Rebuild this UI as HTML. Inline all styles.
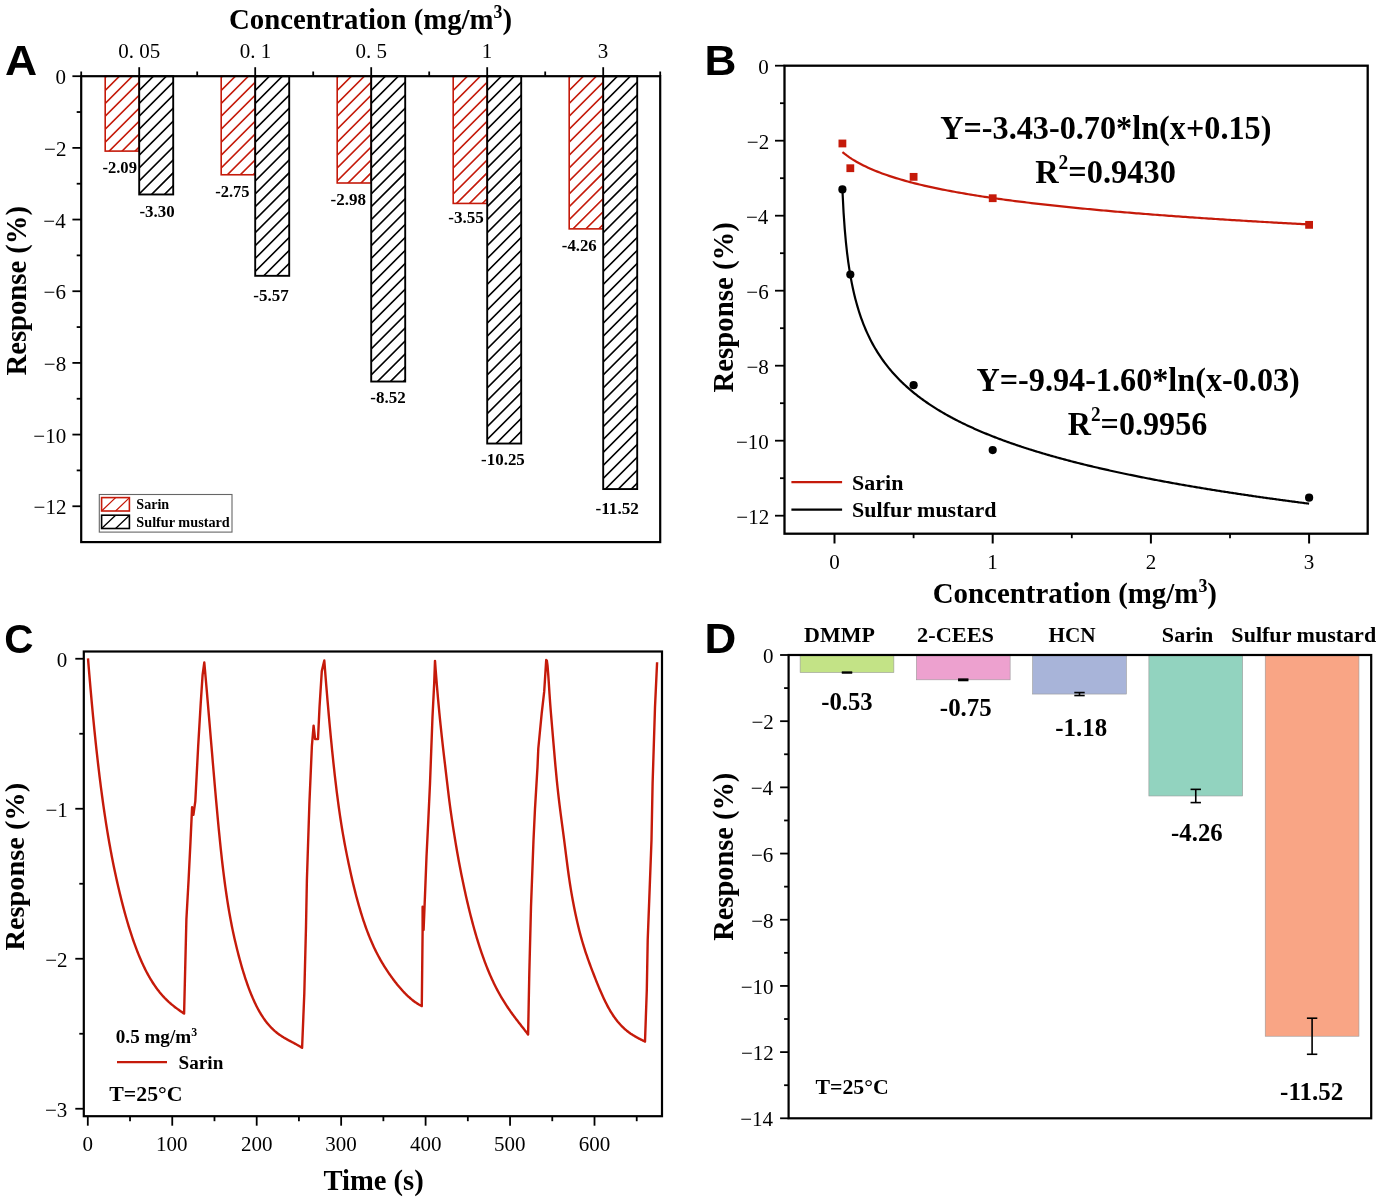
<!DOCTYPE html>
<html><head><meta charset="utf-8"><style>
html,body{margin:0;padding:0;background:#fff;width:1380px;height:1199px;overflow:hidden}
svg{display:block;will-change:transform}
</style></head><body>
<svg width="1380" height="1199" viewBox="0 0 1380 1199">
<rect width="1380" height="1199" fill="#fff"/>
<text transform="translate(4.91,74.80) scale(1.0401,1)" font-family='"Liberation Sans", sans-serif' font-size="42.79" font-weight="bold" fill="#000"><tspan>A</tspan></text>
<text transform="translate(229.00,29.30) scale(1.0000,1)" font-family='"Liberation Serif", serif' font-size="28.79" font-weight="bold" fill="#000"><tspan>Concentration (mg/m</tspan><tspan dy="-10.92" font-size="17.85">3</tspan><tspan dy="10.92">)</tspan></text>
<text transform="translate(26.10,375.50) rotate(-90) scale(0.9994,1)" font-family='"Liberation Serif", serif' font-size="28.68" font-weight="bold" fill="#000"><tspan>Response (%)</tspan></text>
<clipPath id="hc1"><rect x="105.20" y="76.20" width="34.00" height="74.90"/></clipPath>
<path d="M105.20,77.50L106.50,76.20M105.20,90.43L119.43,76.20M105.20,103.36L132.36,76.20M105.20,116.29L145.29,76.20M105.20,129.22L158.22,76.20M105.20,142.15L171.15,76.20M105.20,155.08L184.08,76.20M105.20,168.01L197.01,76.20M105.20,180.94L209.94,76.20M105.20,193.87L222.87,76.20" stroke="#c51a0a" stroke-width="1.6" fill="none" clip-path="url(#hc1)"/>
<rect x="105.20" y="76.20" width="34.00" height="74.90" fill="none" stroke="#c51a0a" stroke-width="1.6"/>
<clipPath id="hc2"><rect x="139.20" y="76.20" width="34.00" height="118.27"/></clipPath>
<path d="M139.20,77.50L140.50,76.20M139.20,90.43L153.43,76.20M139.20,103.36L166.36,76.20M139.20,116.29L179.29,76.20M139.20,129.22L192.22,76.20M139.20,142.15L205.15,76.20M139.20,155.08L218.08,76.20M139.20,168.01L231.01,76.20M139.20,180.94L243.94,76.20M139.20,193.87L256.87,76.20M139.20,206.80L269.80,76.20M139.20,219.73L282.73,76.20M139.20,232.66L295.66,76.20" stroke="#000" stroke-width="1.6" fill="none" clip-path="url(#hc2)"/>
<rect x="139.20" y="76.20" width="34.00" height="118.27" fill="none" stroke="#000" stroke-width="1.9"/>
<clipPath id="hc3"><rect x="221.20" y="76.20" width="34.00" height="98.56"/></clipPath>
<path d="M221.20,77.50L222.50,76.20M221.20,90.43L235.43,76.20M221.20,103.36L248.36,76.20M221.20,116.29L261.29,76.20M221.20,129.22L274.22,76.20M221.20,142.15L287.15,76.20M221.20,155.08L300.08,76.20M221.20,168.01L313.01,76.20M221.20,180.94L325.94,76.20M221.20,193.87L338.87,76.20M221.20,206.80L351.80,76.20M221.20,219.73L364.73,76.20" stroke="#c51a0a" stroke-width="1.6" fill="none" clip-path="url(#hc3)"/>
<rect x="221.20" y="76.20" width="34.00" height="98.56" fill="none" stroke="#c51a0a" stroke-width="1.6"/>
<clipPath id="hc4"><rect x="255.20" y="76.20" width="34.00" height="199.62"/></clipPath>
<path d="M255.20,77.50L256.50,76.20M255.20,90.43L269.43,76.20M255.20,103.36L282.36,76.20M255.20,116.29L295.29,76.20M255.20,129.22L308.22,76.20M255.20,142.15L321.15,76.20M255.20,155.08L334.08,76.20M255.20,168.01L347.01,76.20M255.20,180.94L359.94,76.20M255.20,193.87L372.87,76.20M255.20,206.80L385.80,76.20M255.20,219.73L398.73,76.20M255.20,232.66L411.66,76.20M255.20,245.59L424.59,76.20M255.20,258.52L437.52,76.20M255.20,271.45L450.45,76.20M255.20,284.38L463.38,76.20M255.20,297.31L476.31,76.20M255.20,310.24L489.24,76.20M255.20,323.17L502.17,76.20" stroke="#000" stroke-width="1.6" fill="none" clip-path="url(#hc4)"/>
<rect x="255.20" y="76.20" width="34.00" height="199.62" fill="none" stroke="#000" stroke-width="1.9"/>
<clipPath id="hc5"><rect x="337.20" y="76.20" width="34.00" height="106.80"/></clipPath>
<path d="M337.20,77.50L338.50,76.20M337.20,90.43L351.43,76.20M337.20,103.36L364.36,76.20M337.20,116.29L377.29,76.20M337.20,129.22L390.22,76.20M337.20,142.15L403.15,76.20M337.20,155.08L416.08,76.20M337.20,168.01L429.01,76.20M337.20,180.94L441.94,76.20M337.20,193.87L454.87,76.20M337.20,206.80L467.80,76.20M337.20,219.73L480.73,76.20" stroke="#c51a0a" stroke-width="1.6" fill="none" clip-path="url(#hc5)"/>
<rect x="337.20" y="76.20" width="34.00" height="106.80" fill="none" stroke="#c51a0a" stroke-width="1.6"/>
<clipPath id="hc6"><rect x="371.20" y="76.20" width="34.00" height="305.34"/></clipPath>
<path d="M371.20,77.50L372.50,76.20M371.20,90.43L385.43,76.20M371.20,103.36L398.36,76.20M371.20,116.29L411.29,76.20M371.20,129.22L424.22,76.20M371.20,142.15L437.15,76.20M371.20,155.08L450.08,76.20M371.20,168.01L463.01,76.20M371.20,180.94L475.94,76.20M371.20,193.87L488.87,76.20M371.20,206.80L501.80,76.20M371.20,219.73L514.73,76.20M371.20,232.66L527.66,76.20M371.20,245.59L540.59,76.20M371.20,258.52L553.52,76.20M371.20,271.45L566.45,76.20M371.20,284.38L579.38,76.20M371.20,297.31L592.31,76.20M371.20,310.24L605.24,76.20M371.20,323.17L618.17,76.20M371.20,336.10L631.10,76.20M371.20,349.03L644.03,76.20M371.20,361.96L656.96,76.20M371.20,374.89L669.89,76.20M371.20,387.82L682.82,76.20M371.20,400.75L695.75,76.20M371.20,413.68L708.68,76.20M371.20,426.61L721.61,76.20" stroke="#000" stroke-width="1.6" fill="none" clip-path="url(#hc6)"/>
<rect x="371.20" y="76.20" width="34.00" height="305.34" fill="none" stroke="#000" stroke-width="1.9"/>
<clipPath id="hc7"><rect x="453.20" y="76.20" width="34.00" height="127.23"/></clipPath>
<path d="M453.20,77.50L454.50,76.20M453.20,90.43L467.43,76.20M453.20,103.36L480.36,76.20M453.20,116.29L493.29,76.20M453.20,129.22L506.22,76.20M453.20,142.15L519.15,76.20M453.20,155.08L532.08,76.20M453.20,168.01L545.01,76.20M453.20,180.94L557.94,76.20M453.20,193.87L570.87,76.20M453.20,206.80L583.80,76.20M453.20,219.73L596.73,76.20M453.20,232.66L609.66,76.20M453.20,245.59L622.59,76.20" stroke="#c51a0a" stroke-width="1.6" fill="none" clip-path="url(#hc7)"/>
<rect x="453.20" y="76.20" width="34.00" height="127.23" fill="none" stroke="#c51a0a" stroke-width="1.6"/>
<clipPath id="hc8"><rect x="487.20" y="76.20" width="34.00" height="367.34"/></clipPath>
<path d="M487.20,77.50L488.50,76.20M487.20,90.43L501.43,76.20M487.20,103.36L514.36,76.20M487.20,116.29L527.29,76.20M487.20,129.22L540.22,76.20M487.20,142.15L553.15,76.20M487.20,155.08L566.08,76.20M487.20,168.01L579.01,76.20M487.20,180.94L591.94,76.20M487.20,193.87L604.87,76.20M487.20,206.80L617.80,76.20M487.20,219.73L630.73,76.20M487.20,232.66L643.66,76.20M487.20,245.59L656.59,76.20M487.20,258.52L669.52,76.20M487.20,271.45L682.45,76.20M487.20,284.38L695.38,76.20M487.20,297.31L708.31,76.20M487.20,310.24L721.24,76.20M487.20,323.17L734.17,76.20M487.20,336.10L747.10,76.20M487.20,349.03L760.03,76.20M487.20,361.96L772.96,76.20M487.20,374.89L785.89,76.20M487.20,387.82L798.82,76.20M487.20,400.75L811.75,76.20M487.20,413.68L824.68,76.20M487.20,426.61L837.61,76.20M487.20,439.54L850.54,76.20M487.20,452.47L863.47,76.20M487.20,465.40L876.40,76.20M487.20,478.33L889.33,76.20M487.20,491.26L902.26,76.20" stroke="#000" stroke-width="1.6" fill="none" clip-path="url(#hc8)"/>
<rect x="487.20" y="76.20" width="34.00" height="367.34" fill="none" stroke="#000" stroke-width="1.9"/>
<clipPath id="hc9"><rect x="569.20" y="76.20" width="34.00" height="152.67"/></clipPath>
<path d="M569.20,77.50L570.50,76.20M569.20,90.43L583.43,76.20M569.20,103.36L596.36,76.20M569.20,116.29L609.29,76.20M569.20,129.22L622.22,76.20M569.20,142.15L635.15,76.20M569.20,155.08L648.08,76.20M569.20,168.01L661.01,76.20M569.20,180.94L673.94,76.20M569.20,193.87L686.87,76.20M569.20,206.80L699.80,76.20M569.20,219.73L712.73,76.20M569.20,232.66L725.66,76.20M569.20,245.59L738.59,76.20M569.20,258.52L751.52,76.20M569.20,271.45L764.45,76.20" stroke="#c51a0a" stroke-width="1.6" fill="none" clip-path="url(#hc9)"/>
<rect x="569.20" y="76.20" width="34.00" height="152.67" fill="none" stroke="#c51a0a" stroke-width="1.6"/>
<clipPath id="hc10"><rect x="603.20" y="76.20" width="34.00" height="412.86"/></clipPath>
<path d="M603.20,77.50L604.50,76.20M603.20,90.43L617.43,76.20M603.20,103.36L630.36,76.20M603.20,116.29L643.29,76.20M603.20,129.22L656.22,76.20M603.20,142.15L669.15,76.20M603.20,155.08L682.08,76.20M603.20,168.01L695.01,76.20M603.20,180.94L707.94,76.20M603.20,193.87L720.87,76.20M603.20,206.80L733.80,76.20M603.20,219.73L746.73,76.20M603.20,232.66L759.66,76.20M603.20,245.59L772.59,76.20M603.20,258.52L785.52,76.20M603.20,271.45L798.45,76.20M603.20,284.38L811.38,76.20M603.20,297.31L824.31,76.20M603.20,310.24L837.24,76.20M603.20,323.17L850.17,76.20M603.20,336.10L863.10,76.20M603.20,349.03L876.03,76.20M603.20,361.96L888.96,76.20M603.20,374.89L901.89,76.20M603.20,387.82L914.82,76.20M603.20,400.75L927.75,76.20M603.20,413.68L940.68,76.20M603.20,426.61L953.61,76.20M603.20,439.54L966.54,76.20M603.20,452.47L979.47,76.20M603.20,465.40L992.40,76.20M603.20,478.33L1005.33,76.20M603.20,491.26L1018.26,76.20M603.20,504.19L1031.19,76.20M603.20,517.12L1044.12,76.20M603.20,530.05L1057.05,76.20" stroke="#000" stroke-width="1.6" fill="none" clip-path="url(#hc10)"/>
<rect x="603.20" y="76.20" width="34.00" height="412.86" fill="none" stroke="#000" stroke-width="1.9"/>
<text transform="translate(102.40,173.30) scale(1.0000,1)" font-family='"Liberation Serif", serif' font-size="16.6" font-weight="bold" fill="#000"><tspan>-2.09</tspan></text>
<text transform="translate(139.40,217.20) scale(1.0000,1)" font-family='"Liberation Serif", serif' font-size="16.9" font-weight="bold" fill="#000"><tspan>-3.30</tspan></text>
<text transform="translate(215.20,196.80) scale(0.9970,1)" font-family='"Liberation Serif", serif' font-size="16.55" font-weight="bold" fill="#000"><tspan>-2.75</tspan></text>
<text transform="translate(253.30,301.20) scale(1.0000,1)" font-family='"Liberation Serif", serif' font-size="17.0" font-weight="bold" fill="#000"><tspan>-5.57</tspan></text>
<text transform="translate(330.50,204.70) scale(1.0029,1)" font-family='"Liberation Serif", serif' font-size="17.0" font-weight="bold" fill="#000"><tspan>-2.98</tspan></text>
<text transform="translate(370.30,402.70) scale(1.0000,1)" font-family='"Liberation Serif", serif' font-size="17.0" font-weight="bold" fill="#000"><tspan>-8.52</tspan></text>
<text transform="translate(448.30,223.00) scale(1.0000,1)" font-family='"Liberation Serif", serif' font-size="17.1" font-weight="bold" fill="#000"><tspan>-3.55</tspan></text>
<text transform="translate(481.10,464.50) scale(0.9977,1)" font-family='"Liberation Serif", serif' font-size="16.96" font-weight="bold" fill="#000"><tspan>-10.25</tspan></text>
<text transform="translate(561.80,251.00) scale(1.0000,1)" font-family='"Liberation Serif", serif' font-size="16.8" font-weight="bold" fill="#000"><tspan>-4.26</tspan></text>
<text transform="translate(595.50,514.30) scale(1.0000,1)" font-family='"Liberation Serif", serif' font-size="17.21" font-weight="bold" fill="#000"><tspan>-11.52</tspan></text>
<rect x="81.20" y="76.20" width="579.00" height="465.90" fill="none" stroke="#000" stroke-width="2.2"/>
<line x1="72.40" y1="76.20" x2="81.20" y2="76.20" stroke="#000" stroke-width="1.8" stroke-linecap="butt"/>
<text transform="translate(55.60,84.40) scale(1.0000,1)" font-family='"Liberation Serif", serif' font-size="21" font-weight="normal" fill="#000"><tspan>0</tspan></text>
<line x1="76.70" y1="112.04" x2="81.20" y2="112.04" stroke="#000" stroke-width="1.8" stroke-linecap="butt"/>
<line x1="72.40" y1="147.88" x2="81.20" y2="147.88" stroke="#000" stroke-width="1.8" stroke-linecap="butt"/>
<text transform="translate(44.10,156.08) scale(1.0000,1)" font-family='"Liberation Serif", serif' font-size="21" font-weight="normal" fill="#000"><tspan>−2</tspan></text>
<line x1="76.70" y1="183.72" x2="81.20" y2="183.72" stroke="#000" stroke-width="1.8" stroke-linecap="butt"/>
<line x1="72.40" y1="219.55" x2="81.20" y2="219.55" stroke="#000" stroke-width="1.8" stroke-linecap="butt"/>
<text transform="translate(43.30,227.75) scale(1.0000,1)" font-family='"Liberation Serif", serif' font-size="21" font-weight="normal" fill="#000"><tspan>−4</tspan></text>
<line x1="76.70" y1="255.39" x2="81.20" y2="255.39" stroke="#000" stroke-width="1.8" stroke-linecap="butt"/>
<line x1="72.40" y1="291.23" x2="81.20" y2="291.23" stroke="#000" stroke-width="1.8" stroke-linecap="butt"/>
<text transform="translate(43.60,299.43) scale(1.0000,1)" font-family='"Liberation Serif", serif' font-size="21" font-weight="normal" fill="#000"><tspan>−6</tspan></text>
<line x1="76.70" y1="327.07" x2="81.20" y2="327.07" stroke="#000" stroke-width="1.8" stroke-linecap="butt"/>
<line x1="72.40" y1="362.91" x2="81.20" y2="362.91" stroke="#000" stroke-width="1.8" stroke-linecap="butt"/>
<text transform="translate(43.80,371.11) scale(1.0000,1)" font-family='"Liberation Serif", serif' font-size="21" font-weight="normal" fill="#000"><tspan>−8</tspan></text>
<line x1="76.70" y1="398.75" x2="81.20" y2="398.75" stroke="#000" stroke-width="1.8" stroke-linecap="butt"/>
<line x1="72.40" y1="434.58" x2="81.20" y2="434.58" stroke="#000" stroke-width="1.8" stroke-linecap="butt"/>
<text transform="translate(33.30,442.78) scale(1.0000,1)" font-family='"Liberation Serif", serif' font-size="21" font-weight="normal" fill="#000"><tspan>−10</tspan></text>
<line x1="76.70" y1="470.42" x2="81.20" y2="470.42" stroke="#000" stroke-width="1.8" stroke-linecap="butt"/>
<line x1="72.40" y1="506.26" x2="81.20" y2="506.26" stroke="#000" stroke-width="1.8" stroke-linecap="butt"/>
<text transform="translate(33.60,514.46) scale(1.0000,1)" font-family='"Liberation Serif", serif' font-size="21" font-weight="normal" fill="#000"><tspan>−12</tspan></text>
<line x1="139.20" y1="67.20" x2="139.20" y2="76.20" stroke="#000" stroke-width="1.8" stroke-linecap="butt"/>
<line x1="255.20" y1="67.20" x2="255.20" y2="76.20" stroke="#000" stroke-width="1.8" stroke-linecap="butt"/>
<line x1="371.20" y1="67.20" x2="371.20" y2="76.20" stroke="#000" stroke-width="1.8" stroke-linecap="butt"/>
<line x1="487.20" y1="67.20" x2="487.20" y2="76.20" stroke="#000" stroke-width="1.8" stroke-linecap="butt"/>
<line x1="603.20" y1="67.20" x2="603.20" y2="76.20" stroke="#000" stroke-width="1.8" stroke-linecap="butt"/>
<line x1="81.20" y1="71.50" x2="81.20" y2="76.20" stroke="#000" stroke-width="1.8" stroke-linecap="butt"/>
<line x1="197.20" y1="71.50" x2="197.20" y2="76.20" stroke="#000" stroke-width="1.8" stroke-linecap="butt"/>
<line x1="313.20" y1="71.50" x2="313.20" y2="76.20" stroke="#000" stroke-width="1.8" stroke-linecap="butt"/>
<line x1="429.20" y1="71.50" x2="429.20" y2="76.20" stroke="#000" stroke-width="1.8" stroke-linecap="butt"/>
<line x1="545.20" y1="71.50" x2="545.20" y2="76.20" stroke="#000" stroke-width="1.8" stroke-linecap="butt"/>
<line x1="660.20" y1="71.50" x2="660.20" y2="76.20" stroke="#000" stroke-width="1.8" stroke-linecap="butt"/>
<text transform="translate(118.20,58.30) scale(1.0000,1)" font-family='"Liberation Serif", serif' font-size="21" font-weight="normal" fill="#000"><tspan>0. 05</tspan></text>
<text transform="translate(239.70,58.30) scale(1.0000,1)" font-family='"Liberation Serif", serif' font-size="21" font-weight="normal" fill="#000"><tspan>0. 1</tspan></text>
<text transform="translate(355.45,58.30) scale(1.0000,1)" font-family='"Liberation Serif", serif' font-size="21" font-weight="normal" fill="#000"><tspan>0. 5</tspan></text>
<text transform="translate(481.70,58.30) scale(1.0000,1)" font-family='"Liberation Serif", serif' font-size="21" font-weight="normal" fill="#000"><tspan>1</tspan></text>
<text transform="translate(597.85,58.30) scale(1.0000,1)" font-family='"Liberation Serif", serif' font-size="21" font-weight="normal" fill="#000"><tspan>3</tspan></text>
<rect x="99.30" y="494.50" width="132.70" height="37.60" fill="none" stroke="#666" stroke-width="1.1"/>
<clipPath id="hc11"><rect x="101.6" y="497.6" width="27.80000000000001" height="13.399999999999977"/></clipPath>
<path d="M87.60,511.00L101.60,497.60M101.60,511.00L115.60,497.60M115.60,511.00L129.60,497.60M129.60,511.00L143.60,497.60M143.60,511.00L157.60,497.60M157.60,511.00L171.60,497.60" stroke="#c51a0a" stroke-width="1.3" fill="none" clip-path="url(#hc11)"/>
<rect x="101.60" y="497.60" width="27.80" height="13.40" fill="none" stroke="#c51a0a" stroke-width="1.6"/>
<clipPath id="hc12"><rect x="101.6" y="515.2" width="27.80000000000001" height="13.299999999999955"/></clipPath>
<path d="M87.60,528.50L101.60,515.20M101.60,528.50L115.60,515.20M115.60,528.50L129.60,515.20M129.60,528.50L143.60,515.20M143.60,528.50L157.60,515.20M157.60,528.50L171.60,515.20" stroke="#000" stroke-width="1.3" fill="none" clip-path="url(#hc12)"/>
<rect x="101.60" y="515.20" width="27.80" height="13.30" fill="none" stroke="#000" stroke-width="1.6"/>
<text transform="translate(136.30,509.40) scale(0.9969,1)" font-family='"Liberation Serif", serif' font-size="14.16" font-weight="bold" fill="#000"><tspan>Sarin</tspan></text>
<text transform="translate(136.30,527.00) scale(1.0022,1)" font-family='"Liberation Serif", serif' font-size="14.22" font-weight="bold" fill="#000"><tspan>Sulfur mustard</tspan></text>
<text transform="translate(704.59,75.00) scale(1.0385,1)" font-family='"Liberation Sans", sans-serif' font-size="42.54" font-weight="bold" fill="#000"><tspan>B</tspan></text>
<rect x="784.50" y="65.70" width="583.20" height="468.00" fill="none" stroke="#000" stroke-width="2.3"/>
<line x1="775.00" y1="65.70" x2="784.50" y2="65.70" stroke="#000" stroke-width="1.8" stroke-linecap="butt"/>
<text transform="translate(758.30,73.70) scale(1.0000,1)" font-family='"Liberation Serif", serif' font-size="21" font-weight="normal" fill="#000"><tspan>0</tspan></text>
<line x1="780.00" y1="103.20" x2="784.50" y2="103.20" stroke="#000" stroke-width="1.8" stroke-linecap="butt"/>
<line x1="775.00" y1="140.70" x2="784.50" y2="140.70" stroke="#000" stroke-width="1.8" stroke-linecap="butt"/>
<text transform="translate(746.80,148.70) scale(1.0000,1)" font-family='"Liberation Serif", serif' font-size="21" font-weight="normal" fill="#000"><tspan>−2</tspan></text>
<line x1="780.00" y1="178.20" x2="784.50" y2="178.20" stroke="#000" stroke-width="1.8" stroke-linecap="butt"/>
<line x1="775.00" y1="215.70" x2="784.50" y2="215.70" stroke="#000" stroke-width="1.8" stroke-linecap="butt"/>
<text transform="translate(746.00,223.70) scale(1.0000,1)" font-family='"Liberation Serif", serif' font-size="21" font-weight="normal" fill="#000"><tspan>−4</tspan></text>
<line x1="780.00" y1="253.20" x2="784.50" y2="253.20" stroke="#000" stroke-width="1.8" stroke-linecap="butt"/>
<line x1="775.00" y1="290.70" x2="784.50" y2="290.70" stroke="#000" stroke-width="1.8" stroke-linecap="butt"/>
<text transform="translate(746.30,298.70) scale(1.0000,1)" font-family='"Liberation Serif", serif' font-size="21" font-weight="normal" fill="#000"><tspan>−6</tspan></text>
<line x1="780.00" y1="328.20" x2="784.50" y2="328.20" stroke="#000" stroke-width="1.8" stroke-linecap="butt"/>
<line x1="775.00" y1="365.70" x2="784.50" y2="365.70" stroke="#000" stroke-width="1.8" stroke-linecap="butt"/>
<text transform="translate(746.50,373.70) scale(1.0000,1)" font-family='"Liberation Serif", serif' font-size="21" font-weight="normal" fill="#000"><tspan>−8</tspan></text>
<line x1="780.00" y1="403.20" x2="784.50" y2="403.20" stroke="#000" stroke-width="1.8" stroke-linecap="butt"/>
<line x1="775.00" y1="440.70" x2="784.50" y2="440.70" stroke="#000" stroke-width="1.8" stroke-linecap="butt"/>
<text transform="translate(736.00,448.70) scale(1.0000,1)" font-family='"Liberation Serif", serif' font-size="21" font-weight="normal" fill="#000"><tspan>−10</tspan></text>
<line x1="780.00" y1="478.20" x2="784.50" y2="478.20" stroke="#000" stroke-width="1.8" stroke-linecap="butt"/>
<line x1="775.00" y1="515.70" x2="784.50" y2="515.70" stroke="#000" stroke-width="1.8" stroke-linecap="butt"/>
<text transform="translate(736.30,523.70) scale(1.0000,1)" font-family='"Liberation Serif", serif' font-size="21" font-weight="normal" fill="#000"><tspan>−12</tspan></text>
<line x1="834.50" y1="533.70" x2="834.50" y2="543.50" stroke="#000" stroke-width="2" stroke-linecap="butt"/>
<text transform="translate(829.25,568.70) scale(1.0000,1)" font-family='"Liberation Serif", serif' font-size="21" font-weight="normal" fill="#000"><tspan>0</tspan></text>
<line x1="913.60" y1="533.70" x2="913.60" y2="538.20" stroke="#000" stroke-width="1.8" stroke-linecap="butt"/>
<line x1="992.70" y1="533.70" x2="992.70" y2="543.50" stroke="#000" stroke-width="2" stroke-linecap="butt"/>
<text transform="translate(987.20,568.70) scale(1.0000,1)" font-family='"Liberation Serif", serif' font-size="21" font-weight="normal" fill="#000"><tspan>1</tspan></text>
<line x1="1071.80" y1="533.70" x2="1071.80" y2="538.20" stroke="#000" stroke-width="1.8" stroke-linecap="butt"/>
<line x1="1150.90" y1="533.70" x2="1150.90" y2="543.50" stroke="#000" stroke-width="2" stroke-linecap="butt"/>
<text transform="translate(1145.75,568.70) scale(1.0000,1)" font-family='"Liberation Serif", serif' font-size="21" font-weight="normal" fill="#000"><tspan>2</tspan></text>
<line x1="1230.00" y1="533.70" x2="1230.00" y2="538.20" stroke="#000" stroke-width="1.8" stroke-linecap="butt"/>
<line x1="1309.10" y1="533.70" x2="1309.10" y2="543.50" stroke="#000" stroke-width="2" stroke-linecap="butt"/>
<text transform="translate(1303.75,568.70) scale(1.0000,1)" font-family='"Liberation Serif", serif' font-size="21" font-weight="normal" fill="#000"><tspan>3</tspan></text>
<text transform="translate(932.70,603.00) scale(0.9986,1)" font-family='"Liberation Serif", serif' font-size="28.96" font-weight="bold" fill="#000"><tspan>Concentration (mg/m</tspan><tspan dy="-10.98" font-size="17.96">3</tspan><tspan dy="10.98">)</tspan></text>
<text transform="translate(733.00,392.50) rotate(-90) scale(0.9982,1)" font-family='"Liberation Serif", serif' font-size="28.87" font-weight="bold" fill="#000"><tspan>Response (%)</tspan></text>
<path d="M842.41,152.08 L844.74,153.95 L847.08,155.69 L849.41,157.32 L851.74,158.86 L854.08,160.32 L856.41,161.69 L858.74,163.00 L861.08,164.25 L863.41,165.44 L865.74,166.58 L868.08,167.67 L870.41,168.72 L872.74,169.73 L875.08,170.70 L877.41,171.63 L879.75,172.53 L882.08,173.41 L884.41,174.25 L886.75,175.07 L889.08,175.87 L891.41,176.64 L893.75,177.39 L896.08,178.11 L898.41,178.82 L900.75,179.51 L903.08,180.18 L905.41,180.84 L907.75,181.48 L910.08,182.10 L912.41,182.71 L914.75,183.31 L917.08,183.89 L919.41,184.46 L921.75,185.02 L924.08,185.56 L926.41,186.10 L928.75,186.62 L931.08,187.14 L933.41,187.64 L935.75,188.14 L938.08,188.62 L940.41,189.10 L942.75,189.57 L945.08,190.03 L947.42,190.48 L949.75,190.92 L952.08,191.36 L954.42,191.79 L956.75,192.21 L959.08,192.63 L961.42,193.04 L963.75,193.44 L966.08,193.84 L968.42,194.23 L970.75,194.62 L973.08,195.00 L975.42,195.37 L977.75,195.74 L980.08,196.11 L982.42,196.47 L984.75,196.82 L987.08,197.17 L989.42,197.52 L991.75,197.86 L994.08,198.19 L996.42,198.52 L998.75,198.85 L1001.08,199.18 L1003.42,199.50 L1005.75,199.81 L1008.08,200.12 L1010.42,200.43 L1012.75,200.74 L1015.09,201.04 L1017.42,201.34 L1019.75,201.63 L1022.09,201.92 L1024.42,202.21 L1026.75,202.50 L1029.09,202.78 L1031.42,203.06 L1033.75,203.33 L1036.09,203.61 L1038.42,203.88 L1040.75,204.15 L1043.09,204.41 L1045.42,204.67 L1047.75,204.93 L1050.09,205.19 L1052.42,205.45 L1054.75,205.70 L1057.09,205.95 L1059.42,206.19 L1061.75,206.44 L1064.09,206.68 L1066.42,206.92 L1068.75,207.16 L1071.09,207.40 L1073.42,207.63 L1075.76,207.87 L1078.09,208.10 L1080.42,208.32 L1082.76,208.55 L1085.09,208.77 L1087.42,209.00 L1089.76,209.22 L1092.09,209.44 L1094.42,209.65 L1096.76,209.87 L1099.09,210.08 L1101.42,210.29 L1103.76,210.50 L1106.09,210.71 L1108.42,210.92 L1110.76,211.12 L1113.09,211.33 L1115.42,211.53 L1117.76,211.73 L1120.09,211.93 L1122.42,212.12 L1124.76,212.32 L1127.09,212.51 L1129.42,212.71 L1131.76,212.90 L1134.09,213.09 L1136.42,213.28 L1138.76,213.46 L1141.09,213.65 L1143.43,213.84 L1145.76,214.02 L1148.09,214.20 L1150.43,214.38 L1152.76,214.56 L1155.09,214.74 L1157.43,214.92 L1159.76,215.09 L1162.09,215.27 L1164.43,215.44 L1166.76,215.61 L1169.09,215.79 L1171.43,215.96 L1173.76,216.13 L1176.09,216.29 L1178.43,216.46 L1180.76,216.63 L1183.09,216.79 L1185.43,216.96 L1187.76,217.12 L1190.09,217.28 L1192.43,217.44 L1194.76,217.60 L1197.09,217.76 L1199.43,217.92 L1201.76,218.08 L1204.09,218.23 L1206.43,218.39 L1208.76,218.54 L1211.10,218.70 L1213.43,218.85 L1215.76,219.00 L1218.10,219.15 L1220.43,219.30 L1222.76,219.45 L1225.10,219.60 L1227.43,219.75 L1229.76,219.89 L1232.10,220.04 L1234.43,220.18 L1236.76,220.33 L1239.10,220.47 L1241.43,220.61 L1243.76,220.76 L1246.10,220.90 L1248.43,221.04 L1250.76,221.18 L1253.10,221.31 L1255.43,221.45 L1257.76,221.59 L1260.10,221.73 L1262.43,221.86 L1264.76,222.00 L1267.10,222.13 L1269.43,222.27 L1271.76,222.40 L1274.10,222.53 L1276.43,222.66 L1278.77,222.80 L1281.10,222.93 L1283.43,223.06 L1285.77,223.19 L1288.10,223.31 L1290.43,223.44 L1292.77,223.57 L1295.10,223.70 L1297.43,223.82 L1299.77,223.95 L1302.10,224.07 L1304.43,224.20 L1306.77,224.32 L1309.10,224.44" stroke="#c51a0a" stroke-width="2.2" fill="none"/>
<path d="M842.41,189.59 L843.58,212.57 L844.74,229.15 L845.91,242.12 L847.08,252.78 L848.24,261.83 L849.41,269.70 L850.58,276.65 L851.74,282.87 L852.91,288.52 L854.08,293.67 L855.24,298.42 L856.41,302.82 L857.58,306.92 L858.74,310.76 L859.91,314.36 L861.08,317.77 L862.24,320.98 L863.41,324.04 L864.58,326.95 L865.74,329.72 L866.91,332.37 L868.08,334.91 L869.24,337.34 L870.41,339.68 L871.58,341.94 L872.74,344.11 L873.91,346.20 L875.08,348.23 L876.25,350.18 L877.41,352.08 L878.58,353.92 L879.75,355.70 L880.91,357.43 L882.08,359.12 L883.25,360.76 L884.41,362.35 L885.58,363.90 L886.75,365.42 L887.91,366.89 L889.08,368.33 L890.25,369.74 L891.41,371.12 L892.58,372.46 L893.75,373.77 L894.91,375.06 L896.08,376.32 L897.25,377.55 L898.41,378.76 L899.58,379.95 L900.75,381.11 L901.91,382.25 L903.08,383.37 L904.25,384.47 L905.41,385.54 L906.58,386.60 L907.75,387.64 L908.91,388.67 L910.08,389.67 L911.25,390.66 L912.41,391.64 L913.58,392.59 L914.75,393.54 L915.91,394.46 L917.08,395.38 L918.25,396.28 L919.41,397.17 L920.58,398.04 L921.75,398.90 L922.91,399.75 L924.08,400.59 L925.25,401.41 L926.41,402.23 L927.58,403.03 L928.75,403.83 L929.91,404.61 L931.08,405.38 L932.25,406.15 L933.41,406.90 L934.58,407.64 L935.75,408.38 L936.91,409.10 L938.08,409.82 L939.25,410.53 L940.41,411.23 L941.58,411.92 L942.75,412.61 L943.92,413.28 L945.08,413.95 L946.25,414.62 L947.42,415.27 L948.58,415.92 L949.75,416.56 L950.92,417.19 L952.08,417.82 L953.25,418.44 L954.42,419.06 L955.58,419.66 L956.75,420.27 L957.92,420.86 L959.08,421.45 L960.25,422.04 L961.42,422.62 L962.58,423.19 L963.75,423.76 L964.92,424.32 L966.08,424.88 L967.25,425.43 L968.42,425.98 L969.58,426.52 L970.75,427.06 L971.92,427.59 L973.08,428.12 L974.25,428.64 L975.42,429.16 L976.58,429.67 L977.75,430.18 L978.92,430.69 L980.08,431.19 L981.25,431.69 L982.42,432.18 L983.58,432.67 L984.75,433.16 L985.92,433.64 L987.08,434.12 L988.25,434.59 L989.42,435.06 L990.58,435.53 L991.75,435.99 L992.92,436.45 L994.08,436.90 L995.25,437.36 L996.42,437.80 L997.58,438.25 L998.75,438.69 L999.92,439.13 L1001.08,439.57 L1002.25,440.00 L1003.42,440.43 L1004.58,440.86 L1005.75,441.28 L1006.92,441.70 L1008.08,442.12 L1009.25,442.53 L1010.42,442.95 L1011.59,443.35 L1012.75,443.76 L1013.92,444.16 L1015.09,444.57 L1016.25,444.96 L1017.42,445.36 L1018.59,445.75 L1019.75,446.14 L1020.92,446.53 L1022.09,446.92 L1023.25,447.30 L1024.42,447.68 L1025.59,448.06 L1026.75,448.43 L1027.92,448.81 L1029.09,449.18 L1030.25,449.55 L1031.42,449.91 L1032.59,450.28 L1033.75,450.64 L1034.92,451.00 L1036.09,451.36 L1037.25,451.71 L1038.42,452.07 L1039.59,452.42 L1040.75,452.77 L1041.92,453.12 L1043.09,453.46 L1044.25,453.81 L1045.42,454.15 L1046.59,454.49 L1047.75,454.83 L1048.92,455.16 L1050.09,455.50 L1051.25,455.83 L1052.42,456.16 L1053.59,456.49 L1054.75,456.81 L1055.92,457.14 L1057.09,457.46 L1058.25,457.78 L1059.42,458.10 L1060.59,458.42 L1061.75,458.74 L1062.92,459.05 L1064.09,459.36 L1065.25,459.68 L1066.42,459.99 L1067.59,460.29 L1068.75,460.60 L1069.92,460.91 L1071.09,461.21 L1072.25,461.51 L1073.42,461.81 L1074.59,462.11 L1075.76,462.41 L1076.92,462.70 L1078.09,463.00 L1079.26,463.29 L1080.42,463.58 L1081.59,463.87 L1082.76,464.16 L1083.92,464.45 L1085.09,464.74 L1086.26,465.02 L1087.42,465.31 L1088.59,465.59 L1089.76,465.87 L1090.92,466.15 L1092.09,466.43 L1093.26,466.70 L1094.42,466.98 L1095.59,467.25 L1096.76,467.53 L1097.92,467.80 L1099.09,468.07 L1100.26,468.34 L1101.42,468.61 L1102.59,468.87 L1103.76,469.14 L1104.92,469.41 L1106.09,469.67 L1107.26,469.93 L1108.42,470.19 L1109.59,470.45 L1110.76,470.71 L1111.92,470.97 L1113.09,471.23 L1114.26,471.48 L1115.42,471.74 L1116.59,471.99 L1117.76,472.24 L1118.92,472.49 L1120.09,472.74 L1121.26,472.99 L1122.42,473.24 L1123.59,473.49 L1124.76,473.74 L1125.92,473.98 L1127.09,474.23 L1128.26,474.47 L1129.42,474.71 L1130.59,474.95 L1131.76,475.19 L1132.92,475.43 L1134.09,475.67 L1135.26,475.91 L1136.42,476.14 L1137.59,476.38 L1138.76,476.61 L1139.92,476.85 L1141.09,477.08 L1142.26,477.31 L1143.43,477.54 L1144.59,477.77 L1145.76,478.00 L1146.93,478.23 L1148.09,478.46 L1149.26,478.69 L1150.43,478.91 L1151.59,479.14 L1152.76,479.36 L1153.93,479.58 L1155.09,479.81 L1156.26,480.03 L1157.43,480.25 L1158.59,480.47 L1159.76,480.69 L1160.93,480.91 L1162.09,481.13 L1163.26,481.34 L1164.43,481.56 L1165.59,481.77 L1166.76,481.99 L1167.93,482.20 L1169.09,482.42 L1170.26,482.63 L1171.43,482.84 L1172.59,483.05 L1173.76,483.26 L1174.93,483.47 L1176.09,483.68 L1177.26,483.89 L1178.43,484.09 L1179.59,484.30 L1180.76,484.50 L1181.93,484.71 L1183.09,484.91 L1184.26,485.12 L1185.43,485.32 L1186.59,485.52 L1187.76,485.72 L1188.93,485.93 L1190.09,486.13 L1191.26,486.33 L1192.43,486.52 L1193.59,486.72 L1194.76,486.92 L1195.93,487.12 L1197.09,487.31 L1198.26,487.51 L1199.43,487.70 L1200.59,487.90 L1201.76,488.09 L1202.93,488.29 L1204.09,488.48 L1205.26,488.67 L1206.43,488.86 L1207.59,489.05 L1208.76,489.24 L1209.93,489.43 L1211.10,489.62 L1212.26,489.81 L1213.43,490.00 L1214.60,490.18 L1215.76,490.37 L1216.93,490.56 L1218.10,490.74 L1219.26,490.93 L1220.43,491.11 L1221.60,491.29 L1222.76,491.48 L1223.93,491.66 L1225.10,491.84 L1226.26,492.02 L1227.43,492.20 L1228.60,492.38 L1229.76,492.56 L1230.93,492.74 L1232.10,492.92 L1233.26,493.10 L1234.43,493.28 L1235.60,493.46 L1236.76,493.63 L1237.93,493.81 L1239.10,493.98 L1240.26,494.16 L1241.43,494.33 L1242.60,494.51 L1243.76,494.68 L1244.93,494.85 L1246.10,495.03 L1247.26,495.20 L1248.43,495.37 L1249.60,495.54 L1250.76,495.71 L1251.93,495.88 L1253.10,496.05 L1254.26,496.22 L1255.43,496.39 L1256.60,496.56 L1257.76,496.73 L1258.93,496.89 L1260.10,497.06 L1261.26,497.23 L1262.43,497.39 L1263.60,497.56 L1264.76,497.72 L1265.93,497.89 L1267.10,498.05 L1268.26,498.22 L1269.43,498.38 L1270.60,498.54 L1271.76,498.70 L1272.93,498.87 L1274.10,499.03 L1275.26,499.19 L1276.43,499.35 L1277.60,499.51 L1278.77,499.67 L1279.93,499.83 L1281.10,499.99 L1282.27,500.15 L1283.43,500.30 L1284.60,500.46 L1285.77,500.62 L1286.93,500.77 L1288.10,500.93 L1289.27,501.09 L1290.43,501.24 L1291.60,501.40 L1292.77,501.55 L1293.93,501.71 L1295.10,501.86 L1296.27,502.01 L1297.43,502.17 L1298.60,502.32 L1299.77,502.47 L1300.93,502.63 L1302.10,502.78 L1303.27,502.93 L1304.43,503.08 L1305.60,503.23 L1306.77,503.38 L1307.93,503.53 L1309.10,503.68" stroke="#000" stroke-width="2.2" fill="none"/>
<rect x="838.51" y="139.57" width="7.80" height="7.80" fill="#c51a0a" stroke="none" stroke-width="1"/>
<circle cx="842.41" cy="189.45" r="4.1" fill="#000"/>
<rect x="846.42" y="164.32" width="7.80" height="7.80" fill="#c51a0a" stroke="none" stroke-width="1"/>
<circle cx="850.32" cy="274.57" r="4.1" fill="#000"/>
<rect x="909.70" y="172.95" width="7.80" height="7.80" fill="#c51a0a" stroke="none" stroke-width="1"/>
<circle cx="913.60" cy="385.20" r="4.1" fill="#000"/>
<rect x="988.80" y="194.32" width="7.80" height="7.80" fill="#c51a0a" stroke="none" stroke-width="1"/>
<circle cx="992.70" cy="450.07" r="4.1" fill="#000"/>
<rect x="1305.20" y="220.95" width="7.80" height="7.80" fill="#c51a0a" stroke="none" stroke-width="1"/>
<circle cx="1309.10" cy="497.70" r="4.1" fill="#000"/>
<text transform="translate(940.13,138.60) scale(0.9534,1)" font-family='"Liberation Serif", serif' font-size="33.82" font-weight="bold" fill="#000"><tspan>Y=-3.43-0.70*ln(x+0.15)</tspan></text>
<text transform="translate(1035.13,182.80) scale(0.9514,1)" font-family='"Liberation Serif", serif' font-size="34.07" font-weight="bold" fill="#000"><tspan>R</tspan><tspan dy="-13.52" font-size="20.44">2</tspan><tspan dy="13.52">=0.9430</tspan></text>
<text transform="translate(976.43,390.80) scale(0.9529,1)" font-family='"Liberation Serif", serif' font-size="33.81" font-weight="bold" fill="#000"><tspan>Y=-9.94-1.60*ln(x-0.03)</tspan></text>
<text transform="translate(1067.73,434.60) scale(0.9518,1)" font-family='"Liberation Serif", serif' font-size="33.77" font-weight="bold" fill="#000"><tspan>R</tspan><tspan dy="-13.40" font-size="20.26">2</tspan><tspan dy="13.40">=0.9956</tspan></text>
<line x1="791.40" y1="482.10" x2="842.10" y2="482.10" stroke="#c51a0a" stroke-width="2.2" stroke-linecap="butt"/>
<line x1="791.40" y1="509.70" x2="842.10" y2="509.70" stroke="#000" stroke-width="2.2" stroke-linecap="butt"/>
<text transform="translate(852.10,489.50) scale(1.0020,1)" font-family='"Liberation Serif", serif' font-size="21.94" font-weight="bold" fill="#000"><tspan>Sarin</tspan></text>
<text transform="translate(852.10,516.80) scale(1.0000,1)" font-family='"Liberation Serif", serif' font-size="21.99" font-weight="bold" fill="#000"><tspan>Sulfur mustard</tspan></text>
<text transform="translate(4.17,653.20) scale(1.0192,1)" font-family='"Liberation Sans", sans-serif' font-size="39.74" font-weight="bold" fill="#000"><tspan>C</tspan></text>
<rect x="83.80" y="651.50" width="578.20" height="464.70" fill="none" stroke="#000" stroke-width="2.2"/>
<line x1="75.30" y1="658.75" x2="83.80" y2="658.75" stroke="#000" stroke-width="1.8" stroke-linecap="butt"/>
<text transform="translate(56.70,667.05) scale(1.0000,1)" font-family='"Liberation Serif", serif' font-size="21" font-weight="normal" fill="#000"><tspan>0</tspan></text>
<line x1="79.30" y1="733.75" x2="83.80" y2="733.75" stroke="#000" stroke-width="1.8" stroke-linecap="butt"/>
<line x1="75.30" y1="808.75" x2="83.80" y2="808.75" stroke="#000" stroke-width="1.8" stroke-linecap="butt"/>
<text transform="translate(45.40,817.05) scale(1.0000,1)" font-family='"Liberation Serif", serif' font-size="21" font-weight="normal" fill="#000"><tspan>−1</tspan></text>
<line x1="79.30" y1="883.75" x2="83.80" y2="883.75" stroke="#000" stroke-width="1.8" stroke-linecap="butt"/>
<line x1="75.30" y1="958.75" x2="83.80" y2="958.75" stroke="#000" stroke-width="1.8" stroke-linecap="butt"/>
<text transform="translate(45.20,967.05) scale(1.0000,1)" font-family='"Liberation Serif", serif' font-size="21" font-weight="normal" fill="#000"><tspan>−2</tspan></text>
<line x1="79.30" y1="1033.75" x2="83.80" y2="1033.75" stroke="#000" stroke-width="1.8" stroke-linecap="butt"/>
<line x1="75.30" y1="1108.75" x2="83.80" y2="1108.75" stroke="#000" stroke-width="1.8" stroke-linecap="butt"/>
<text transform="translate(44.90,1117.05) scale(1.0000,1)" font-family='"Liberation Serif", serif' font-size="21" font-weight="normal" fill="#000"><tspan>−3</tspan></text>
<line x1="87.80" y1="1116.20" x2="87.80" y2="1125.70" stroke="#000" stroke-width="1.8" stroke-linecap="butt"/>
<text transform="translate(82.55,1151.00) scale(1.0000,1)" font-family='"Liberation Serif", serif' font-size="21" font-weight="normal" fill="#000"><tspan>0</tspan></text>
<line x1="130.03" y1="1116.20" x2="130.03" y2="1121.20" stroke="#000" stroke-width="1.8" stroke-linecap="butt"/>
<line x1="172.25" y1="1116.20" x2="172.25" y2="1125.70" stroke="#000" stroke-width="1.8" stroke-linecap="butt"/>
<text transform="translate(156.00,1151.00) scale(1.0000,1)" font-family='"Liberation Serif", serif' font-size="21" font-weight="normal" fill="#000"><tspan>100</tspan></text>
<line x1="214.48" y1="1116.20" x2="214.48" y2="1121.20" stroke="#000" stroke-width="1.8" stroke-linecap="butt"/>
<line x1="256.70" y1="1116.20" x2="256.70" y2="1125.70" stroke="#000" stroke-width="1.8" stroke-linecap="butt"/>
<text transform="translate(240.90,1151.00) scale(1.0000,1)" font-family='"Liberation Serif", serif' font-size="21" font-weight="normal" fill="#000"><tspan>200</tspan></text>
<line x1="298.93" y1="1116.20" x2="298.93" y2="1121.20" stroke="#000" stroke-width="1.8" stroke-linecap="butt"/>
<line x1="341.15" y1="1116.20" x2="341.15" y2="1125.70" stroke="#000" stroke-width="1.8" stroke-linecap="butt"/>
<text transform="translate(325.30,1151.00) scale(1.0000,1)" font-family='"Liberation Serif", serif' font-size="21" font-weight="normal" fill="#000"><tspan>300</tspan></text>
<line x1="383.38" y1="1116.20" x2="383.38" y2="1121.20" stroke="#000" stroke-width="1.8" stroke-linecap="butt"/>
<line x1="425.60" y1="1116.20" x2="425.60" y2="1125.70" stroke="#000" stroke-width="1.8" stroke-linecap="butt"/>
<text transform="translate(410.05,1151.00) scale(1.0000,1)" font-family='"Liberation Serif", serif' font-size="21" font-weight="normal" fill="#000"><tspan>400</tspan></text>
<line x1="467.83" y1="1116.20" x2="467.83" y2="1121.20" stroke="#000" stroke-width="1.8" stroke-linecap="butt"/>
<line x1="510.05" y1="1116.20" x2="510.05" y2="1125.70" stroke="#000" stroke-width="1.8" stroke-linecap="butt"/>
<text transform="translate(494.10,1151.00) scale(1.0000,1)" font-family='"Liberation Serif", serif' font-size="21" font-weight="normal" fill="#000"><tspan>500</tspan></text>
<line x1="552.27" y1="1116.20" x2="552.27" y2="1121.20" stroke="#000" stroke-width="1.8" stroke-linecap="butt"/>
<line x1="594.50" y1="1116.20" x2="594.50" y2="1125.70" stroke="#000" stroke-width="1.8" stroke-linecap="butt"/>
<text transform="translate(578.70,1151.00) scale(1.0000,1)" font-family='"Liberation Serif", serif' font-size="21" font-weight="normal" fill="#000"><tspan>600</tspan></text>
<line x1="636.73" y1="1116.20" x2="636.73" y2="1121.20" stroke="#000" stroke-width="1.8" stroke-linecap="butt"/>
<text transform="translate(323.40,1189.70) scale(1.0020,1)" font-family='"Liberation Serif", serif' font-size="28.54" font-weight="bold" fill="#000"><tspan>Time (s)</tspan></text>
<text transform="translate(23.50,950.40) rotate(-90) scale(0.9982,1)" font-family='"Liberation Serif", serif' font-size="28.36" font-weight="bold" fill="#000"><tspan>Response (%)</tspan></text>
<path d="M88.00,658.30 L88.64,666.29 L89.29,674.09 L89.93,681.72 L90.58,689.17 L91.22,696.45 L91.87,703.56 L92.51,710.50 L93.16,717.28 L93.80,723.90 L94.45,730.36 L95.09,736.67 L95.74,742.83 L96.38,748.84 L97.03,754.71 L97.67,760.43 L98.32,766.01 L98.96,771.46 L99.61,776.78 L100.25,781.97 L100.90,787.03 L101.54,791.97 L102.19,796.78 L102.83,801.48 L103.48,806.07 L104.12,810.54 L104.77,814.91 L105.41,819.17 L106.06,823.33 L106.70,827.39 L107.35,831.35 L107.99,835.23 L108.64,839.01 L109.28,842.70 L109.93,846.31 L110.57,849.84 L111.22,853.29 L111.86,856.67 L112.51,859.98 L113.15,863.22 L113.80,866.39 L114.44,869.50 L115.09,872.55 L115.73,875.54 L116.38,878.48 L117.02,881.37 L117.67,884.22 L118.31,887.02 L118.96,889.77 L119.60,892.48 L120.25,895.15 L120.89,897.77 L121.54,900.35 L122.18,902.89 L122.83,905.39 L123.47,907.84 L124.12,910.26 L124.76,912.63 L125.41,914.96 L126.05,917.26 L126.70,919.51 L127.34,921.73 L127.99,923.91 L128.63,926.04 L129.28,928.15 L129.92,930.21 L130.57,932.24 L131.21,934.23 L131.86,936.18 L132.50,938.10 L133.15,939.99 L133.79,941.84 L134.44,943.65 L135.08,945.43 L135.73,947.18 L136.37,948.90 L137.02,950.58 L137.66,952.23 L138.31,953.85 L138.95,955.43 L139.60,956.99 L140.24,958.51 L140.89,960.01 L141.53,961.48 L142.18,962.91 L142.82,964.32 L143.47,965.70 L144.11,967.05 L144.76,968.37 L145.40,969.67 L146.05,970.94 L146.69,972.18 L147.34,973.40 L147.98,974.59 L148.63,975.76 L149.27,976.90 L149.92,978.02 L150.56,979.11 L151.21,980.18 L151.85,981.23 L152.50,982.26 L153.14,983.26 L153.79,984.24 L154.43,985.20 L155.08,986.14 L155.72,987.06 L156.37,987.96 L157.01,988.84 L157.66,989.70 L158.30,990.54 L158.95,991.36 L159.59,992.17 L160.24,992.95 L160.88,993.72 L161.53,994.48 L162.17,995.22 L162.82,995.94 L163.46,996.64 L164.11,997.33 L164.75,998.01 L165.40,998.67 L166.04,999.32 L166.69,999.96 L167.33,1000.58 L167.98,1001.19 L168.62,1001.79 L169.27,1002.37 L169.91,1002.95 L170.56,1003.51 L171.20,1004.06 L171.85,1004.61 L172.49,1005.14 L173.14,1005.67 L173.78,1006.18 L174.43,1006.69 L175.07,1007.19 L175.72,1007.68 L176.36,1008.17 L177.01,1008.65 L177.65,1009.12 L178.30,1009.59 L178.94,1010.05 L179.59,1010.51 L180.23,1010.96 L180.88,1011.41 L181.52,1011.85 L182.17,1012.29 L182.81,1012.73 L183.46,1013.17 L184.10,1013.60 L186.40,919.30 L188.60,879.70 L190.50,841.60 L192.10,807.10 L193.40,814.80 L195.30,801.30 L198.20,745.80 L200.70,703.60 L202.60,674.90 L204.30,662.50 L204.30,662.50 L204.96,669.81 L205.61,677.23 L206.27,684.76 L206.93,692.37 L207.58,700.05 L208.24,707.79 L208.89,715.58 L209.55,723.39 L210.21,731.23 L210.86,739.07 L211.52,746.91 L212.18,754.72 L212.83,762.50 L213.49,770.23 L214.15,777.90 L214.80,785.50 L215.46,793.01 L216.11,800.42 L216.77,807.71 L217.43,814.87 L218.08,821.90 L218.74,828.77 L219.40,835.47 L220.05,841.99 L220.71,848.32 L221.37,854.44 L222.02,860.34 L222.68,866.01 L223.33,871.47 L223.99,876.72 L224.65,881.77 L225.30,886.62 L225.96,891.29 L226.62,895.78 L227.27,900.09 L227.93,904.25 L228.59,908.25 L229.24,912.09 L229.90,915.80 L230.56,919.38 L231.21,922.83 L231.87,926.16 L232.52,929.38 L233.18,932.50 L233.84,935.52 L234.49,938.45 L235.15,941.31 L235.81,944.09 L236.46,946.80 L237.12,949.46 L237.78,952.06 L238.43,954.61 L239.09,957.10 L239.74,959.55 L240.40,961.94 L241.06,964.28 L241.71,966.56 L242.37,968.80 L243.03,970.99 L243.68,973.13 L244.34,975.22 L245.00,977.27 L245.65,979.27 L246.31,981.22 L246.96,983.13 L247.62,984.99 L248.28,986.81 L248.93,988.58 L249.59,990.31 L250.25,992.00 L250.90,993.65 L251.56,995.25 L252.22,996.82 L252.87,998.35 L253.53,999.84 L254.18,1001.29 L254.84,1002.70 L255.50,1004.07 L256.15,1005.41 L256.81,1006.71 L257.47,1007.98 L258.12,1009.22 L258.78,1010.42 L259.44,1011.58 L260.09,1012.72 L260.75,1013.82 L261.40,1014.89 L262.06,1015.93 L262.72,1016.94 L263.37,1017.93 L264.03,1018.88 L264.69,1019.81 L265.34,1020.70 L266.00,1021.58 L266.66,1022.42 L267.31,1023.24 L267.97,1024.04 L268.62,1024.81 L269.28,1025.56 L269.94,1026.29 L270.59,1026.99 L271.25,1027.68 L271.91,1028.34 L272.56,1028.98 L273.22,1029.61 L273.88,1030.21 L274.53,1030.80 L275.19,1031.37 L275.84,1031.92 L276.50,1032.46 L277.16,1032.98 L277.81,1033.49 L278.47,1033.98 L279.13,1034.46 L279.78,1034.92 L280.44,1035.38 L281.10,1035.82 L281.75,1036.25 L282.41,1036.67 L283.07,1037.08 L283.72,1037.49 L284.38,1037.88 L285.03,1038.27 L285.69,1038.65 L286.35,1039.02 L287.00,1039.39 L287.66,1039.75 L288.32,1040.11 L288.97,1040.47 L289.63,1040.82 L290.29,1041.17 L290.94,1041.52 L291.60,1041.86 L292.25,1042.21 L292.91,1042.56 L293.57,1042.90 L294.22,1043.25 L294.88,1043.60 L295.54,1043.96 L296.19,1044.32 L296.85,1044.68 L297.51,1045.04 L298.16,1045.42 L298.82,1045.79 L299.47,1046.18 L300.13,1046.57 L300.79,1046.97 L301.44,1047.38 L302.10,1047.80 L304.30,993.60 L306.00,926.80 L306.90,879.70 L309.40,803.30 L311.90,745.80 L313.60,725.70 L315.10,739.10 L318.00,739.10 L319.50,707.50 L321.80,671.10 L324.30,660.50 L324.30,660.50 L324.95,668.95 L325.61,677.23 L326.26,685.34 L326.92,693.27 L327.57,701.04 L328.23,708.63 L328.88,716.05 L329.53,723.29 L330.19,730.37 L330.84,737.27 L331.50,743.99 L332.15,750.55 L332.81,756.93 L333.46,763.13 L334.12,769.17 L334.77,775.02 L335.42,780.71 L336.08,786.22 L336.73,791.55 L337.39,796.72 L338.04,801.70 L338.70,806.52 L339.35,811.16 L340.00,815.64 L340.66,819.96 L341.31,824.14 L341.97,828.19 L342.62,832.10 L343.28,835.90 L343.93,839.58 L344.59,843.16 L345.24,846.65 L345.89,850.05 L346.55,853.38 L347.20,856.64 L347.86,859.83 L348.51,862.98 L349.17,866.06 L349.82,869.09 L350.47,872.07 L351.13,874.99 L351.78,877.86 L352.44,880.68 L353.09,883.44 L353.75,886.15 L354.40,888.80 L355.06,891.41 L355.71,893.96 L356.36,896.46 L357.02,898.91 L357.67,901.31 L358.33,903.66 L358.98,905.96 L359.64,908.21 L360.29,910.42 L360.94,912.58 L361.60,914.69 L362.25,916.76 L362.91,918.79 L363.56,920.77 L364.22,922.72 L364.87,924.62 L365.52,926.48 L366.18,928.30 L366.83,930.08 L367.49,931.83 L368.14,933.54 L368.80,935.21 L369.45,936.85 L370.11,938.45 L370.76,940.02 L371.41,941.55 L372.07,943.05 L372.72,944.53 L373.38,945.97 L374.03,947.38 L374.69,948.76 L375.34,950.12 L375.99,951.44 L376.65,952.75 L377.30,954.02 L377.96,955.27 L378.61,956.50 L379.27,957.70 L379.92,958.89 L380.58,960.05 L381.23,961.19 L381.88,962.31 L382.54,963.41 L383.19,964.49 L383.85,965.55 L384.50,966.60 L385.16,967.64 L385.81,968.65 L386.46,969.66 L387.12,970.65 L387.77,971.63 L388.43,972.59 L389.08,973.55 L389.74,974.49 L390.39,975.43 L391.04,976.35 L391.70,977.26 L392.35,978.16 L393.01,979.05 L393.66,979.93 L394.32,980.80 L394.97,981.65 L395.63,982.49 L396.28,983.33 L396.93,984.15 L397.59,984.96 L398.24,985.75 L398.90,986.54 L399.55,987.31 L400.21,988.07 L400.86,988.82 L401.51,989.56 L402.17,990.29 L402.82,991.00 L403.48,991.70 L404.13,992.39 L404.79,993.07 L405.44,993.73 L406.10,994.38 L406.75,995.02 L407.40,995.65 L408.06,996.26 L408.71,996.86 L409.37,997.45 L410.02,998.02 L410.68,998.59 L411.33,999.13 L411.98,999.67 L412.64,1000.19 L413.29,1000.70 L413.95,1001.20 L414.60,1001.68 L415.26,1002.15 L415.91,1002.61 L416.57,1003.05 L417.22,1003.48 L417.87,1003.90 L418.53,1004.30 L419.18,1004.69 L419.84,1005.06 L420.49,1005.42 L421.15,1005.77 L421.80,1006.10 L422.60,931.80 L422.60,906.80 L423.60,930.00 L425.20,890.10 L426.50,856.70 L428.30,820.30 L430.00,783.60 L432.50,716.80 L434.20,683.40 L435.00,660.90 L435.00,660.90 L435.62,669.32 L436.25,677.37 L436.87,685.09 L437.50,692.49 L438.12,699.60 L438.75,706.43 L439.37,713.01 L440.00,719.36 L440.62,725.49 L441.25,731.44 L441.87,737.22 L442.50,742.86 L443.12,748.37 L443.75,753.79 L444.37,759.14 L445.00,764.45 L445.62,769.75 L446.25,775.07 L446.87,780.40 L447.50,785.69 L448.12,790.93 L448.75,796.06 L449.37,801.05 L450.00,805.86 L450.62,810.47 L451.25,814.89 L451.87,819.15 L452.50,823.29 L453.12,827.31 L453.74,831.27 L454.37,835.17 L454.99,839.04 L455.62,842.84 L456.24,846.56 L456.87,850.20 L457.49,853.76 L458.12,857.25 L458.74,860.67 L459.37,864.02 L459.99,867.31 L460.62,870.53 L461.24,873.70 L461.87,876.80 L462.49,879.86 L463.12,882.86 L463.74,885.82 L464.37,888.73 L464.99,891.60 L465.62,894.42 L466.24,897.19 L466.87,899.93 L467.49,902.61 L468.12,905.26 L468.74,907.86 L469.37,910.43 L469.99,912.95 L470.62,915.43 L471.24,917.87 L471.87,920.27 L472.49,922.63 L473.11,924.95 L473.74,927.23 L474.36,929.47 L474.99,931.68 L475.61,933.85 L476.24,935.99 L476.86,938.08 L477.49,940.15 L478.11,942.17 L478.74,944.17 L479.36,946.13 L479.99,948.05 L480.61,949.94 L481.24,951.80 L481.86,953.63 L482.49,955.43 L483.11,957.19 L483.74,958.93 L484.36,960.63 L484.99,962.31 L485.61,963.95 L486.24,965.57 L486.86,967.16 L487.49,968.72 L488.11,970.26 L488.74,971.76 L489.36,973.24 L489.99,974.70 L490.61,976.13 L491.23,977.54 L491.86,978.92 L492.48,980.28 L493.11,981.61 L493.73,982.92 L494.36,984.21 L494.98,985.48 L495.61,986.73 L496.23,987.96 L496.86,989.16 L497.48,990.35 L498.11,991.52 L498.73,992.66 L499.36,993.79 L499.98,994.91 L500.61,996.00 L501.23,997.08 L501.86,998.14 L502.48,999.19 L503.11,1000.22 L503.73,1001.23 L504.36,1002.23 L504.98,1003.22 L505.61,1004.20 L506.23,1005.16 L506.86,1006.11 L507.48,1007.04 L508.11,1007.97 L508.73,1008.88 L509.36,1009.79 L509.98,1010.68 L510.60,1011.57 L511.23,1012.44 L511.85,1013.31 L512.48,1014.17 L513.10,1015.02 L513.73,1015.87 L514.35,1016.70 L514.98,1017.54 L515.60,1018.36 L516.23,1019.19 L516.85,1020.00 L517.48,1020.82 L518.10,1021.63 L518.73,1022.43 L519.35,1023.24 L519.98,1024.04 L520.60,1024.84 L521.23,1025.64 L521.85,1026.44 L522.48,1027.24 L523.10,1028.03 L523.73,1028.83 L524.35,1029.64 L524.98,1030.44 L525.60,1031.24 L526.23,1032.05 L526.85,1032.86 L527.48,1033.68 L528.10,1034.50 L529.30,973.60 L531.00,906.80 L533.50,840.00 L535.00,808.60 L537.50,766.90 L538.30,748.50 L541.70,713.40 L544.20,691.70 L546.20,660.00 L546.20,660.00 L546.86,660.63 L547.53,665.67 L548.19,673.79 L548.85,683.67 L549.52,693.98 L550.18,703.49 L550.84,712.02 L551.50,719.97 L552.17,727.73 L552.83,735.55 L553.49,743.39 L554.16,751.18 L554.82,758.84 L555.48,766.30 L556.15,773.48 L556.81,780.31 L557.47,786.75 L558.14,792.84 L558.80,798.62 L559.46,804.15 L560.12,809.46 L560.79,814.61 L561.45,819.65 L562.11,824.62 L562.78,829.57 L563.44,834.55 L564.10,839.61 L564.77,844.78 L565.43,850.04 L566.09,855.32 L566.76,860.57 L567.42,865.73 L568.08,870.73 L568.74,875.53 L569.41,880.09 L570.07,884.45 L570.73,888.60 L571.40,892.58 L572.06,896.39 L572.72,900.06 L573.39,903.59 L574.05,907.01 L574.71,910.32 L575.38,913.52 L576.04,916.61 L576.70,919.61 L577.37,922.51 L578.03,925.32 L578.69,928.05 L579.35,930.69 L580.02,933.25 L580.68,935.73 L581.34,938.14 L582.01,940.48 L582.67,942.75 L583.33,944.96 L584.00,947.12 L584.66,949.22 L585.32,951.27 L585.99,953.27 L586.65,955.23 L587.31,957.16 L587.97,959.04 L588.64,960.90 L589.30,962.72 L589.96,964.53 L590.63,966.31 L591.29,968.07 L591.95,969.83 L592.62,971.57 L593.28,973.30 L593.94,975.01 L594.61,976.72 L595.27,978.41 L595.93,980.08 L596.59,981.74 L597.26,983.38 L597.92,985.00 L598.58,986.61 L599.25,988.19 L599.91,989.75 L600.57,991.30 L601.24,992.82 L601.90,994.31 L602.56,995.79 L603.23,997.24 L603.89,998.66 L604.55,1000.06 L605.21,1001.42 L605.88,1002.76 L606.54,1004.07 L607.20,1005.36 L607.87,1006.61 L608.53,1007.82 L609.19,1009.01 L609.86,1010.16 L610.52,1011.29 L611.18,1012.38 L611.85,1013.44 L612.51,1014.47 L613.17,1015.48 L613.83,1016.45 L614.50,1017.40 L615.16,1018.32 L615.82,1019.21 L616.49,1020.08 L617.15,1020.93 L617.81,1021.75 L618.48,1022.54 L619.14,1023.31 L619.80,1024.06 L620.47,1024.79 L621.13,1025.49 L621.79,1026.18 L622.46,1026.84 L623.12,1027.48 L623.78,1028.11 L624.44,1028.72 L625.11,1029.30 L625.77,1029.87 L626.43,1030.43 L627.10,1030.97 L627.76,1031.49 L628.42,1032.00 L629.09,1032.49 L629.75,1032.97 L630.41,1033.44 L631.08,1033.89 L631.74,1034.33 L632.40,1034.76 L633.06,1035.18 L633.73,1035.59 L634.39,1035.99 L635.05,1036.38 L635.72,1036.77 L636.38,1037.14 L637.04,1037.51 L637.71,1037.87 L638.37,1038.23 L639.03,1038.58 L639.70,1038.93 L640.36,1039.27 L641.02,1039.61 L641.68,1039.94 L642.35,1040.28 L643.01,1040.61 L643.67,1040.94 L644.34,1041.27 L645.00,1041.60 L646.80,990.20 L647.70,940.20 L649.30,898.40 L651.50,840.00 L652.60,783.60 L655.00,707.30 L657.10,662.30" stroke="#c51a0a" stroke-width="2.4" fill="none" stroke-linejoin="round"/>
<text transform="translate(115.80,1043.20) scale(0.9975,1)" font-family='"Liberation Serif", serif' font-size="19.17" font-weight="bold" fill="#000"><tspan>0.5 mg/m</tspan><tspan dy="-6.77" font-size="11.89">3</tspan></text>
<line x1="117.00" y1="1062.20" x2="167.00" y2="1062.20" stroke="#c51a0a" stroke-width="2.2" stroke-linecap="butt"/>
<text transform="translate(178.60,1069.00) scale(1.0023,1)" font-family='"Liberation Serif", serif' font-size="19.13" font-weight="bold" fill="#000"><tspan>Sarin</tspan></text>
<text transform="translate(109.30,1100.80) scale(1.0000,1)" font-family='"Liberation Serif", serif' font-size="21.81" font-weight="bold" fill="#000"><tspan>T=25°C</tspan></text>
<text transform="translate(704.58,652.50) scale(1.0425,1)" font-family='"Liberation Sans", sans-serif' font-size="42.22" font-weight="bold" fill="#000"><tspan>D</tspan></text>
<rect x="800.12" y="655.00" width="93.75" height="17.54" fill="#c3e386" stroke="#999" stroke-width="0.6"/>
<line x1="847.00" y1="672.14" x2="847.00" y2="672.94" stroke="#000" stroke-width="1.6" stroke-linecap="butt"/>
<line x1="841.80" y1="672.14" x2="852.20" y2="672.14" stroke="#000" stroke-width="1.6" stroke-linecap="butt"/>
<line x1="841.80" y1="672.94" x2="852.20" y2="672.94" stroke="#000" stroke-width="1.6" stroke-linecap="butt"/>
<text transform="translate(821.20,709.50) scale(1.0020,1)" font-family='"Liberation Serif", serif' font-size="24.65" font-weight="bold" fill="#000"><tspan>-0.53</tspan></text>
<text transform="translate(804.09,641.80) scale(1.0311,1)" font-family='"Liberation Serif", serif' font-size="21.31" font-weight="bold" fill="#000"><tspan>DMMP</tspan></text>
<rect x="916.38" y="655.00" width="93.75" height="24.82" fill="#eda1cf" stroke="#999" stroke-width="0.6"/>
<line x1="963.25" y1="679.16" x2="963.25" y2="680.48" stroke="#000" stroke-width="1.6" stroke-linecap="butt"/>
<line x1="958.05" y1="679.16" x2="968.45" y2="679.16" stroke="#000" stroke-width="1.6" stroke-linecap="butt"/>
<line x1="958.05" y1="680.48" x2="968.45" y2="680.48" stroke="#000" stroke-width="1.6" stroke-linecap="butt"/>
<text transform="translate(939.85,716.25) scale(1.0000,1)" font-family='"Liberation Serif", serif' font-size="24.9" font-weight="bold" fill="#000"><tspan>-0.75</tspan></text>
<text transform="translate(917.07,641.80) scale(1.0331,1)" font-family='"Liberation Serif", serif' font-size="21.63" font-weight="bold" fill="#000"><tspan>2-CEES</tspan></text>
<rect x="1032.62" y="655.00" width="93.75" height="39.05" fill="#a8b4d9" stroke="#999" stroke-width="0.6"/>
<line x1="1079.50" y1="692.56" x2="1079.50" y2="695.54" stroke="#000" stroke-width="1.6" stroke-linecap="butt"/>
<line x1="1074.30" y1="692.56" x2="1084.70" y2="692.56" stroke="#000" stroke-width="1.6" stroke-linecap="butt"/>
<line x1="1074.30" y1="695.54" x2="1084.70" y2="695.54" stroke="#000" stroke-width="1.6" stroke-linecap="butt"/>
<text transform="translate(1055.35,736.25) scale(1.0000,1)" font-family='"Liberation Serif", serif' font-size="24.84" font-weight="bold" fill="#000"><tspan>-1.18</tspan></text>
<text transform="translate(1048.44,641.80) scale(1.0275,1)" font-family='"Liberation Serif", serif' font-size="20.7" font-weight="bold" fill="#000"><tspan>HCN</tspan></text>
<rect x="1148.88" y="655.00" width="93.75" height="140.98" fill="#92d3bf" stroke="#999" stroke-width="0.6"/>
<line x1="1195.75" y1="789.36" x2="1195.75" y2="802.59" stroke="#000" stroke-width="1.6" stroke-linecap="butt"/>
<line x1="1190.55" y1="789.36" x2="1200.95" y2="789.36" stroke="#000" stroke-width="1.6" stroke-linecap="butt"/>
<line x1="1190.55" y1="802.59" x2="1200.95" y2="802.59" stroke="#000" stroke-width="1.6" stroke-linecap="butt"/>
<text transform="translate(1171.10,841.25) scale(0.9980,1)" font-family='"Liberation Serif", serif' font-size="24.79" font-weight="bold" fill="#000"><tspan>-4.26</tspan></text>
<text transform="translate(1161.87,641.80) scale(1.0309,1)" font-family='"Liberation Serif", serif' font-size="21.43" font-weight="bold" fill="#000"><tspan>Sarin</tspan></text>
<rect x="1265.22" y="655.00" width="93.75" height="381.23" fill="#f9a585" stroke="#999" stroke-width="0.6"/>
<line x1="1312.10" y1="1018.19" x2="1312.10" y2="1054.27" stroke="#000" stroke-width="1.6" stroke-linecap="butt"/>
<line x1="1306.90" y1="1018.19" x2="1317.30" y2="1018.19" stroke="#000" stroke-width="1.6" stroke-linecap="butt"/>
<line x1="1306.90" y1="1054.27" x2="1317.30" y2="1054.27" stroke="#000" stroke-width="1.6" stroke-linecap="butt"/>
<text transform="translate(1280.10,1100.40) scale(0.9984,1)" font-family='"Liberation Serif", serif' font-size="25.06" font-weight="bold" fill="#000"><tspan>-11.52</tspan></text>
<text transform="translate(1231.37,641.80) scale(1.0283,1)" font-family='"Liberation Serif", serif' font-size="21.46" font-weight="bold" fill="#000"><tspan>Sulfur mustard</tspan></text>
<rect x="788.60" y="655.00" width="582.60" height="463.30" fill="none" stroke="#000" stroke-width="2.2"/>
<line x1="780.10" y1="655.00" x2="788.60" y2="655.00" stroke="#000" stroke-width="1.8" stroke-linecap="butt"/>
<text transform="translate(763.00,663.00) scale(1.0000,1)" font-family='"Liberation Serif", serif' font-size="21" font-weight="normal" fill="#000"><tspan>0</tspan></text>
<line x1="784.10" y1="688.09" x2="788.60" y2="688.09" stroke="#000" stroke-width="1.8" stroke-linecap="butt"/>
<line x1="780.10" y1="721.19" x2="788.60" y2="721.19" stroke="#000" stroke-width="1.8" stroke-linecap="butt"/>
<text transform="translate(751.50,729.19) scale(1.0000,1)" font-family='"Liberation Serif", serif' font-size="21" font-weight="normal" fill="#000"><tspan>−2</tspan></text>
<line x1="784.10" y1="754.28" x2="788.60" y2="754.28" stroke="#000" stroke-width="1.8" stroke-linecap="butt"/>
<line x1="780.10" y1="787.37" x2="788.60" y2="787.37" stroke="#000" stroke-width="1.8" stroke-linecap="butt"/>
<text transform="translate(750.70,795.37) scale(1.0000,1)" font-family='"Liberation Serif", serif' font-size="21" font-weight="normal" fill="#000"><tspan>−4</tspan></text>
<line x1="784.10" y1="820.46" x2="788.60" y2="820.46" stroke="#000" stroke-width="1.8" stroke-linecap="butt"/>
<line x1="780.10" y1="853.56" x2="788.60" y2="853.56" stroke="#000" stroke-width="1.8" stroke-linecap="butt"/>
<text transform="translate(751.00,861.56) scale(1.0000,1)" font-family='"Liberation Serif", serif' font-size="21" font-weight="normal" fill="#000"><tspan>−6</tspan></text>
<line x1="784.10" y1="886.65" x2="788.60" y2="886.65" stroke="#000" stroke-width="1.8" stroke-linecap="butt"/>
<line x1="780.10" y1="919.74" x2="788.60" y2="919.74" stroke="#000" stroke-width="1.8" stroke-linecap="butt"/>
<text transform="translate(751.20,927.74) scale(1.0000,1)" font-family='"Liberation Serif", serif' font-size="21" font-weight="normal" fill="#000"><tspan>−8</tspan></text>
<line x1="784.10" y1="952.84" x2="788.60" y2="952.84" stroke="#000" stroke-width="1.8" stroke-linecap="butt"/>
<line x1="780.10" y1="985.93" x2="788.60" y2="985.93" stroke="#000" stroke-width="1.8" stroke-linecap="butt"/>
<text transform="translate(740.70,993.93) scale(1.0000,1)" font-family='"Liberation Serif", serif' font-size="21" font-weight="normal" fill="#000"><tspan>−10</tspan></text>
<line x1="784.10" y1="1019.02" x2="788.60" y2="1019.02" stroke="#000" stroke-width="1.8" stroke-linecap="butt"/>
<line x1="780.10" y1="1052.11" x2="788.60" y2="1052.11" stroke="#000" stroke-width="1.8" stroke-linecap="butt"/>
<text transform="translate(741.00,1060.11) scale(1.0000,1)" font-family='"Liberation Serif", serif' font-size="21" font-weight="normal" fill="#000"><tspan>−12</tspan></text>
<line x1="784.10" y1="1085.21" x2="788.60" y2="1085.21" stroke="#000" stroke-width="1.8" stroke-linecap="butt"/>
<line x1="780.10" y1="1118.30" x2="788.60" y2="1118.30" stroke="#000" stroke-width="1.8" stroke-linecap="butt"/>
<text transform="translate(740.20,1126.30) scale(1.0000,1)" font-family='"Liberation Serif", serif' font-size="21" font-weight="normal" fill="#000"><tspan>−14</tspan></text>
<text transform="translate(733.30,940.80) rotate(-90) scale(1.0000,1)" font-family='"Liberation Serif", serif' font-size="28.41" font-weight="bold" fill="#000"><tspan>Response (%)</tspan></text>
<text transform="translate(815.50,1094.20) scale(1.0000,1)" font-family='"Liberation Serif", serif' font-size="21.81" font-weight="bold" fill="#000"><tspan>T=25°C</tspan></text>
</svg></body></html>
